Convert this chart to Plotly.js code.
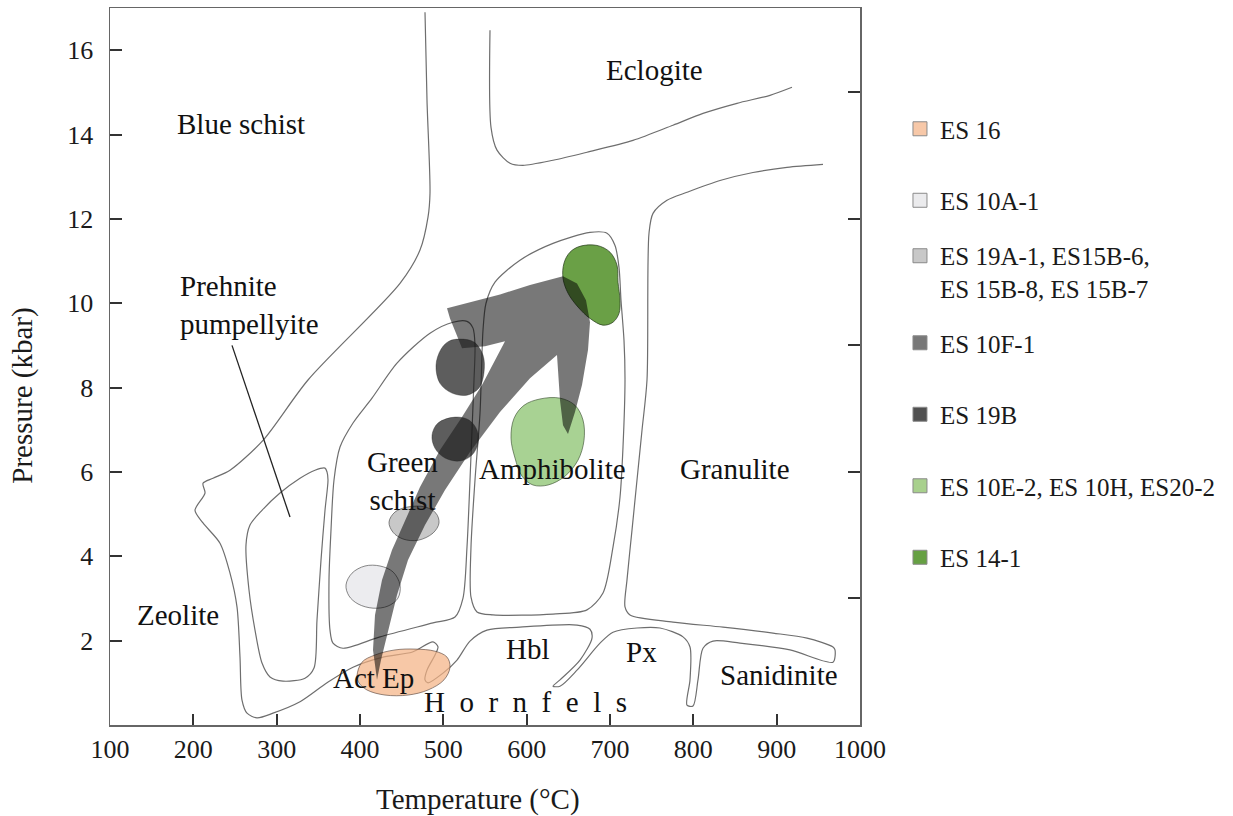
<!DOCTYPE html>
<html>
<head>
<meta charset="utf-8">
<script src="https://cdn.plot.ly/plotly-3.0.1.min.js"></script>
<style>html,body{margin:0;padding:0;background:#fff;}#chart{width:1233px;height:816px;}</style>
</head>
<body>
<div id="chart"></div>
<script>
// ---------- axes ----------
const tempTicks = [100, 200, 300, 400, 500, 600, 700, 800, 900, 1000];
const presTicks = [2, 4, 6, 8, 10, 12, 14, 16];
const rightTicks = [3, 6, 9, 12, 15];

// ---------- facies boundaries (T in °C, P in kbar) ----------
const boundaryT = [478, 480.4, 484, 481.6, 472, 448, 337.6, 283.6, 244, 223.6, 211.6, 214, 202, 211.6, 232, 244, 252.4, 256, 258.4, 264.4, 276.4, 295.6, 328, 360.4, 391.6, 427.6, 463, 487.6, 493.6, 490, 480.4, 478, 481.6, 499.6, 516.4, 532, 552.4, 592, 660.4, 676, 678.4, 664, 640, 631.6, 640, 660.4, 688, 703.6, 732.4, 760, 787.6, 796, 796, 792.4, 799.6, 805.6, 811.6, 823.6, 856, 916, 967.6, 970, 967.6, 936.4, 895.6, 835.6, 775.6, 724, 718, 720.4, 726.4, 732.4, 738.4, 744.4, 746.8, 751.6, 768.4, 792.4, 832, 871.6, 912.4, 955.6];
const boundaryP = [16.90, 14.81, 12.61, 12.04, 11.26, 10.47, 8.18, 6.75, 6.04, 5.85, 5.73, 5.50, 5.09, 4.79, 4.31, 3.60, 2.80, 1.61, 0.59, 0.28, 0.17, 0.28, 0.55, 1.00, 1.37, 1.61, 1.73, 1.97, 1.85, 1.66, 1.30, 1.07, 1.00, 1.23, 1.54, 1.99, 2.25, 2.32, 2.37, 2.27, 2.06, 1.54, 1.07, 0.92, 0.92, 1.30, 1.94, 2.20, 2.30, 2.30, 2.09, 1.85, 1.07, 0.47, 0.45, 1.07, 1.82, 1.99, 1.94, 1.78, 1.49, 1.78, 1.85, 2.06, 2.18, 2.32, 2.44, 2.61, 2.80, 3.44, 4.62, 5.81, 6.99, 8.18, 11.66, 12.13, 12.44, 12.63, 12.91, 13.10, 13.22, 13.29];

const eclogiteT = [556, 557.2, 564.4, 580, 595.6, 631.6, 672.4, 727.6, 775.6, 811.6, 852.4, 892, 918.4];
const eclogiteP = [16.47, 14.17, 13.63, 13.32, 13.27, 13.39, 13.58, 13.86, 14.22, 14.50, 14.74, 14.93, 15.12];

const greenschistT = [528.4, 535.6, 538, 536.8, 534.4, 532, 528.4, 523.6, 514, 487.6, 424, 379.6, 367.6, 364, 362.8, 365.2, 368.8, 376, 391.6, 414.4, 444.4, 484, 511.6, 528.4];
const greenschistP = [9.57, 9.41, 9.00, 8.18, 6.99, 5.81, 4.22, 3.01, 2.56, 2.42, 2.09, 1.82, 1.94, 2.25, 3.44, 4.62, 5.81, 6.59, 7.16, 7.75, 8.58, 9.29, 9.55, 9.57];

const amphiboliteT = [676, 696.4, 706, 710.8, 713.2, 716.8, 718, 715.6, 712, 703.6, 691.6, 672.4, 631.6, 559.6, 540.4, 533.2, 533.2, 538, 544, 547.6, 551.2, 562, 592, 631.6, 676];
const amphiboliteP = [11.68, 11.66, 11.37, 10.85, 10.07, 9.12, 8.18, 6.59, 5.40, 4.22, 3.13, 2.73, 2.63, 2.61, 2.68, 3.03, 4.22, 5.81, 7.39, 9.36, 10.00, 10.50, 11.02, 11.42, 11.68];

const prehniteT = [358, 346, 328, 304, 282.4, 268, 263.2, 266.8, 274, 282.4, 292, 307.6, 334, 344.8, 348.4, 353.2, 358, 361.6, 360.4, 358];
const prehniteP = [6.09, 6.04, 5.85, 5.50, 5.09, 4.74, 4.27, 3.20, 2.25, 1.47, 1.14, 1.04, 1.11, 1.35, 2.49, 3.91, 5.09, 5.81, 6.00, 6.09];

const pointerT = [246.4, 316];
const pointerP = [9.0, 4.93];

// ---------- sample P-T fields ----------
const es16T = [396.4, 402.4, 418, 442, 466, 490, 504.4, 508, 500.8, 481.6, 457.6, 430, 408.4, 398.8, 396.4];
const es16P = [1.16, 1.49, 1.66, 1.78, 1.80, 1.75, 1.61, 1.37, 1.07, 0.83, 0.71, 0.71, 0.83, 1.00, 1.16];

const es10aT = [383.2, 390.4, 406, 424, 439.6, 448, 445.6, 433.6, 415.6, 397.6, 386.8, 383.2];
const es10aP = [3.32, 3.60, 3.77, 3.77, 3.63, 3.32, 3.01, 2.82, 2.77, 2.87, 3.06, 3.32];

const es19aT = [434.8, 442, 457.6, 478, 491.2, 494.8, 487.6, 469.6, 451.6, 439.6, 434.8];
const es19aP = [4.81, 5.05, 5.17, 5.17, 5.02, 4.79, 4.55, 4.38, 4.41, 4.57, 4.81];

const es10fT = [420.4, 415.6, 418, 426.4, 438.4, 454, 472, 496, 522.4, 546.4, 574, 550, 522.4, 515.2, 508, 504.4, 532, 568, 604, 643.6, 660.4, 671.2, 676, 673.6, 666.4, 658, 649.6, 643.6, 640, 637.6, 636.4, 604, 568, 532, 502, 478, 457.6, 444.4, 433.6, 425.2, 420.4];
const es10fP = [1.07, 1.78, 2.61, 3.44, 4.15, 4.86, 5.64, 6.52, 7.30, 8.06, 9.10, 8.98, 8.93, 9.29, 9.64, 9.88, 10.02, 10.21, 10.43, 10.64, 10.47, 10.07, 9.55, 8.89, 8.06, 7.42, 6.90, 7.11, 7.70, 8.29, 8.77, 8.22, 7.42, 6.47, 5.57, 4.74, 3.91, 3.08, 2.25, 1.54, 1.07];

const es19bUpperT = [520, 536.8, 547.6, 548.8, 542.8, 528.4, 510.4, 496, 491.2, 497.2, 506.8, 520];
const es19bUpperP = [9.15, 9.08, 8.77, 8.36, 7.99, 7.82, 7.87, 8.10, 8.53, 8.91, 9.10, 9.15];
const es19bLowerT = [514, 530.8, 540.4, 541.6, 534.4, 520, 502, 490, 486.4, 493.6, 514];
const es19bLowerP = [7.30, 7.23, 6.99, 6.68, 6.40, 6.26, 6.33, 6.56, 6.87, 7.16, 7.30];

const es10eT = [616, 640, 658, 667.6, 668.8, 661.6, 646, 625.6, 607.6, 594.4, 586, 581.2, 584.8, 596.8, 616];
const es10eP = [7.73, 7.75, 7.58, 7.23, 6.75, 6.28, 5.90, 5.69, 5.69, 5.90, 6.33, 6.80, 7.27, 7.58, 7.73];

const es14T = [664, 684.4, 700, 708.4, 709.6, 712, 710.8, 703.6, 691.6, 676, 661.6, 649.6, 643.6, 644.8, 652, 664];
const es14P = [11.35, 11.37, 11.21, 10.90, 10.50, 10.07, 9.76, 9.55, 9.48, 9.64, 9.91, 10.24, 10.59, 10.95, 11.21, 11.35];

// ---------- legend ----------
const sampleNames = ['ES 16', 'ES 10A-1', 'ES 19A-1, ES15B-6,<br>ES 15B-8, ES 15B-7', 'ES 10F-1', 'ES 19B', 'ES 10E-2, ES 10H, ES20-2', 'ES 14-1'];
const sampleSolid = ['#F7C8A8', '#EBEBED', '#C8C8C8', '#787878', '#505050', '#A8D08D', '#66A043'];
const sampleLegend = ['legend', 'legend', 'legend2', 'legend3', 'legend3', 'legend3', 'legend3'];

// ---------- field labels ----------
const labelText = ['Blue schist', 'Eclogite', 'Prehnite<br>pumpellyite', 'Green<br>schist', 'Amphibolite', 'Granulite', 'Zeolite', 'Act Ep', 'Hbl', 'Px', 'Sanidinite', 'H \u00a0o \u00a0r \u00a0n \u00a0f \u00a0e \u00a0l \u00a0s'];
const labelT = [257.2, 752.8, 181.6, 450.4, 631, 850, 181.6, 416, 601.6, 737.8, 902.8, 599];
const labelP = [14.24, 15.52, 9.96, 5.79, 6.07, 6.07, 2.61, 1.11, 1.80, 1.73, 1.18, 0.55];
const labelAnchor = ['center', 'center', 'left', 'center', 'center', 'center', 'center', 'center', 'center', 'center', 'center', 'center'];

const FONT = '"Liberation Serif", "Times New Roman", Times, serif';

function lineTrace(x, y, color, width, shape) {
  return {x: x, y: y, type: 'scatter', mode: 'lines', showlegend: false, hoverinfo: 'skip',
    line: {color: color, width: width, shape: shape || 'spline', smoothing: 0.8}};
}
function fieldTrace(x, y, fill, border, bw, shape) {
  return {x: x, y: y, type: 'scatter', mode: 'lines', fill: 'toself', fillcolor: fill, showlegend: false,
    hoverinfo: 'skip', line: {color: border, width: bw, shape: shape || 'spline', smoothing: 1}};
}

const traces = [
  lineTrace(boundaryT, boundaryP, '#6e6e6e', 1.2),
  lineTrace(eclogiteT, eclogiteP, '#6e6e6e', 1.2),
  lineTrace(greenschistT, greenschistP, '#6e6e6e', 1.2),
  lineTrace(amphiboliteT, amphiboliteP, '#6e6e6e', 1.2),
  lineTrace(prehniteT, prehniteP, '#6e6e6e', 1.2),
  lineTrace(pointerT, pointerP, '#222222', 1.3, 'linear'),
  fieldTrace(es16T, es16P, 'rgba(244,176,130,0.7)', 'rgba(90,70,60,0.8)', 0.8),
  fieldTrace(es10aT, es10aP, 'rgba(200,200,208,0.35)', 'rgba(70,70,70,0.8)', 0.8),
  fieldTrace(es19aT, es19aP, 'rgba(128,128,128,0.43)', 'rgba(70,70,70,0.8)', 0.8),
  fieldTrace(es10eT, es10eP, 'rgba(110,180,75,0.6)', 'rgba(60,80,50,0.8)', 0.8),
  fieldTrace(es14T, es14P, 'rgba(90,150,50,0.9)', 'rgba(40,60,30,0.9)', 0.8),
  fieldTrace(es10fT, es10fP, 'rgba(0,0,0,0.53)', 'rgba(0,0,0,0)', 0, 'linear'),
  fieldTrace(es19bUpperT, es19bUpperP, 'rgba(30,30,30,0.72)', 'rgba(30,30,30,0.6)', 0.6),
  fieldTrace(es19bLowerT, es19bLowerP, 'rgba(30,30,30,0.72)', 'rgba(30,30,30,0.6)', 0.6)
];

sampleNames.forEach(function (nm, i) {
  traces.push({
    x: [null], y: [null], type: 'scatter', mode: 'markers', name: nm, yaxis: 'y2',
    legend: sampleLegend[i], legendgroup: 'g' + i, hoverinfo: 'skip',
    marker: {symbol: 'square', size: 14, color: sampleSolid[i], line: {color: '#8a8a8a', width: 1}}
  });
});

const annotations = labelText.map(function (t, i) {
  return {text: t, x: labelT[i], y: labelP[i], xref: 'x', yref: 'y', showarrow: false,
    xanchor: labelAnchor[i], yanchor: 'middle', align: labelAnchor[i] === 'left' ? 'left' : 'center',
    font: {family: FONT, size: 29, color: '#111'}};
});

const legendBase = {x: 1.0533, xanchor: 'left', yanchor: 'middle', bgcolor: 'rgba(0,0,0,0)',
  font: {family: FONT, size: 25, color: '#1a1a1a'}, tracegroupgap: 36, itemsizing: 'trace', valign: 'top'};

// trailing padding (kept from trimming by a zero-width character) shifts the titles like the reference
const yPad = '\u00a0'.repeat(8) + '\u200b';
const xPad = '\u00a0\u00a0' + '\u200b';

const layout = {
  width: 1233, height: 816,
  margin: {l: 110, r: 373, t: 8, b: 91, pad: 0},
  paper_bgcolor: '#ffffff', plot_bgcolor: '#ffffff',
  font: {family: FONT, color: '#1a1a1a'},
  showlegend: true,
  xaxis: {range: [100, 1000], tickvals: tempTicks, ticks: 'inside', ticklen: 11, tickwidth: 2, tickcolor: '#333',
    showline: true, linecolor: '#666', linewidth: 1.5, mirror: true, showgrid: false, zeroline: false,
    tickfont: {family: FONT, size: 26, color: '#1a1a1a'}, ticklabelstandoff: 0,
    title: {text: 'Temperature (°C)' + xPad, font: {family: FONT, size: 29, color: '#1a1a1a'}, standoff: 26}},
  yaxis: {range: [0, 17], tickvals: presTicks, ticks: 'inside', ticklen: 12, tickwidth: 2, tickcolor: '#333',
    showline: true, linecolor: '#666', linewidth: 1.5, mirror: true, showgrid: false, zeroline: false,
    tickfont: {family: FONT, size: 26, color: '#1a1a1a'}, ticklabelstandoff: 10,
    title: {text: 'Pressure (kbar)' + yPad, font: {family: FONT, size: 29, color: '#1a1a1a'}, standoff: 26}},
  yaxis2: {overlaying: 'y', side: 'right', range: [0, 17], tickvals: rightTicks, ticks: 'inside', ticklen: 12,
    tickwidth: 2, tickcolor: '#333', showticklabels: false, showline: false, showgrid: false, zeroline: false},
  legend: Object.assign({}, legendBase, {y: 0.7817}),
  legend2: Object.assign({}, legendBase, {y: 0.6318}),
  legend3: Object.assign({}, legendBase, {y: 0.3835}),
  annotations: annotations
};

Plotly.newPlot('chart', traces, layout, {displayModeBar: false, staticPlot: true});
</script>
</body>
</html>
